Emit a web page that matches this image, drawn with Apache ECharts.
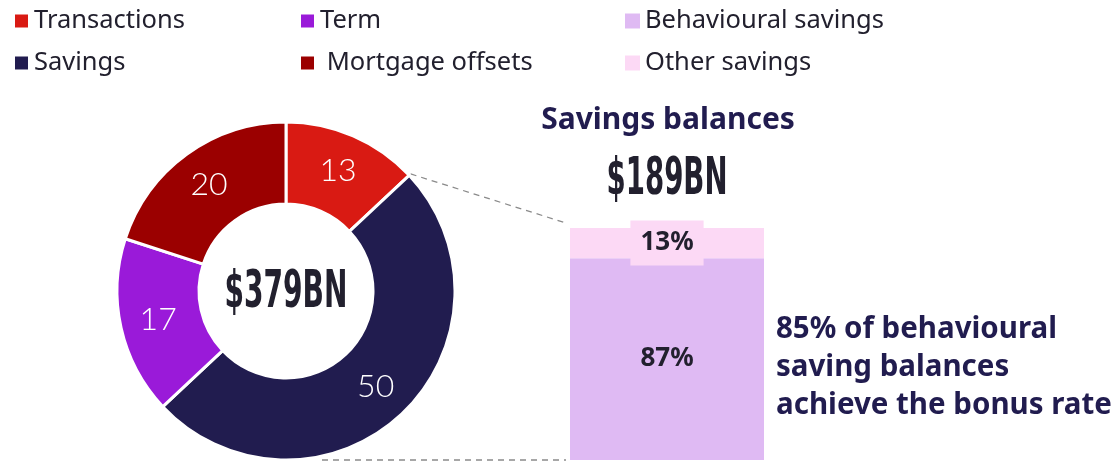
<!DOCTYPE html>
<html>
<head>
<meta charset="utf-8">
<style>
  html, body { margin: 0; padding: 0; background: #ffffff; }
  #chart { width: 1115px; height: 461px; }
</style>
<script src="https://cdn.jsdelivr.net/npm/echarts@6/dist/echarts.min.js"></script>
</head>
<body>
<div id="chart"></div>
<script>
// Product mix of balances (%), drawn clockwise from 12 o'clock
const mixNames = ['Transactions', 'Savings', 'Term', 'Mortgage offsets'];
const mixValues = [13, 50, 17, 20];
const mixColors = ['#d91a13', '#211c4f', '#9a1ad9', '#9b0000'];

// Split of savings balances (%)
const savingsNames = ['Behavioural savings', 'Other savings'];
const savingsValues = [87, 13];
const savingsColors = ['#dfbaf3', '#fcd9f5'];

const totalLabel = '$379BN';
const savingsTotalLabel = '$189BN';
const savingsTitle = 'Savings balances';
const noteLines = ['85% of behavioural', 'saving balances', 'achieve the bonus rate'];

const textFont = '"Noto Sans", "Open Sans", sans-serif';
const lightFont = 'Lato, "Noto Sans", sans-serif';
const numberFont = '"Liberation Sans Narrow", "DejaVu Sans Condensed", sans-serif';
const ink = '#22202e';
const navy = '#211c4f';

const pieCenter = [286, 291];
const pieRadius = [87, 169];

const chart = echarts.init(document.getElementById('chart'), null, { renderer: 'canvas' });

function legendBlock(left, names, formatter) {
  return {
    orient: 'vertical',
    left: left,
    top: 8,
    padding: 0,
    itemWidth: 15,
    itemHeight: 15,
    itemGap: 16,
    icon: 'rect',
    selectedMode: false,
    data: names,
    formatter: formatter,
    textStyle: { fontFamily: textFont, fontSize: 25.5, lineHeight: 26, color: ink }
  };
}

const option = {
  animation: false,
  legend: [
    legendBlock(13, [mixNames[0], mixNames[1]]),
    legendBlock(299, [mixNames[2], mixNames[3]], function (n) { return n === 'Mortgage offsets' ? ' ' + n : n; }),
    legendBlock(625, savingsNames)
  ],
  grid: { left: 570, top: 228, width: 194, height: 232, containLabel: false },
  xAxis: { type: 'category', data: ['Savings'], show: false },
  yAxis: { type: 'value', min: 0, max: 100, show: false },
  series: [
    {
      type: 'pie',
      name: 'Balances',
      center: pieCenter,
      radius: pieRadius,
      startAngle: 90,
      clockwise: true,
      avoidLabelOverlap: false,
      itemStyle: { borderColor: '#ffffff', borderWidth: 3 },
      label: {
        show: true,
        position: 'inside',
        formatter: '{c}',
        color: '#ffffff',
        fontFamily: lightFont,
        fontSize: 32,
        fontWeight: 300
      },
      labelLine: { show: false },
      emphasis: { disabled: true },
      data: mixNames.map((n, i) => ({ name: n, value: mixValues[i], itemStyle: { color: mixColors[i] } }))
    },
    {
      type: 'bar',
      name: savingsNames[0],
      stack: 'savings',
      barWidth: '100%',
      itemStyle: { color: savingsColors[0] },
      label: {
        show: true, position: 'inside', formatter: '{c}%',
        color: ink, fontFamily: textFont, fontSize: 26, fontWeight: 'bold'
      },
      data: [savingsValues[0]]
    },
    {
      type: 'bar',
      name: savingsNames[1],
      stack: 'savings',
      barWidth: '100%',
      itemStyle: { color: savingsColors[1] },
      label: {
        show: true, position: 'inside', formatter: '{c}%',
        color: ink, fontFamily: textFont, fontSize: 26, lineHeight: 27, fontWeight: 'bold',
        backgroundColor: savingsColors[1], padding: [10, 10, 8, 10]
      },
      data: [savingsValues[1]]
    }
  ]
};

chart.setOption(option);

// Connector lines from the Savings slice to the savings bar
const barTop = chart.convertToPixel({ gridIndex: 0 }, [0, 100]);
const barBottom = chart.convertToPixel({ gridIndex: 0 }, [0, 0]);
const barLeft = 570;
const edgeAngle = (90 - mixValues[0] / mixValues.reduce((a, b) => a + b, 0) * 360) * Math.PI / 180;
const edgePoint = [
  pieCenter[0] + (pieRadius[1] + 2) * Math.cos(edgeAngle),
  pieCenter[1] - (pieRadius[1] + 2) * Math.sin(edgeAngle)
];
const dash = { stroke: '#8a8a8a', lineWidth: 1.3, lineDash: [6, 5] };

chart.setOption({
  graphic: [
    {
      type: 'line', silent: true,
      shape: { x1: edgePoint[0], y1: edgePoint[1], x2: barLeft - 4, y2: barTop[1] - 5 },
      style: dash
    },
    {
      type: 'line', silent: true,
      shape: { x1: 322, y1: barBottom[1], x2: barLeft - 4, y2: barBottom[1] },
      style: dash
    },
    {
      type: 'text', silent: true,
      x: pieCenter[0], y: pieCenter[1] + 2, scaleX: 0.6,
      style: {
        text: totalLabel, fontFamily: numberFont, fontSize: 52, fontWeight: 'bold',
        fill: ink, align: 'center', verticalAlign: 'middle'
      }
    },
    {
      type: 'text', silent: true,
      x: 668, y: 120,
      style: {
        text: savingsTitle, fontFamily: textFont, fontSize: 30, fontWeight: 'bold',
        fill: navy, align: 'center', verticalAlign: 'middle'
      }
    },
    {
      type: 'text', silent: true,
      x: 667, y: 180, scaleX: 0.59,
      style: {
        text: savingsTotalLabel, fontFamily: numberFont, fontSize: 52, fontWeight: 'bold',
        fill: ink, align: 'center', verticalAlign: 'middle'
      }
    },
    {
      type: 'text', silent: true,
      x: 776, y: 368,
      style: {
        text: noteLines.join('\n'), fontFamily: textFont, fontSize: 29.5, fontWeight: 'bold',
        lineHeight: 38, fill: navy, align: 'left', verticalAlign: 'middle'
      }
    }
  ]
});
</script>
</body>
</html>
